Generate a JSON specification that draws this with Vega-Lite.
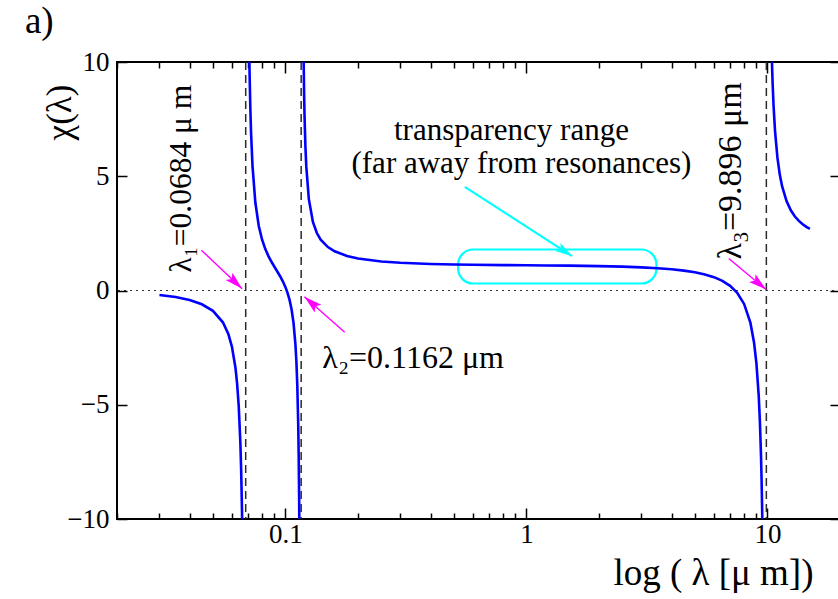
{
  "$schema": "https://vega.github.io/schema/vega-lite/v6.json",
  "width": 723,
  "height": 457,
  "autosize": {"type": "none"},
  "padding": {"left": 117, "top": 62, "right": 0, "bottom": 80},
  "background": "white",
  "config": {
    "view": {"stroke": "black", "strokeWidth": 2},
    "font": "Liberation Serif",
    "axis": {
      "labelFont": "Liberation Serif",
      "titleFont": "Liberation Serif",
      "labelColor": "black",
      "titleColor": "black",
      "tickColor": "black",
      "domain": false,
      "grid": false,
      "labelFontSize": 27,
      "titleFontWeight": "normal",
      "tickWidth": 1.5
    }
  },
  "datasets": {
    "curve": [
      {"lam": 0.03, "chi": -0.195, "branch": 1},
      {"lam": 0.035, "chi": -0.288, "branch": 1},
      {"lam": 0.04, "chi": -0.417, "branch": 1},
      {"lam": 0.045, "chi": -0.603, "branch": 1},
      {"lam": 0.05, "chi": -0.891, "branch": 1},
      {"lam": 0.055, "chi": -1.391, "branch": 1},
      {"lam": 0.058, "chi": -1.916, "branch": 1},
      {"lam": 0.06, "chi": -2.471, "branch": 1},
      {"lam": 0.062, "chi": -3.367, "branch": 1},
      {"lam": 0.063, "chi": -4.061, "branch": 1},
      {"lam": 0.064, "chi": -5.067, "branch": 1},
      {"lam": 0.065, "chi": -6.662, "branch": 1},
      {"lam": 0.0655, "chi": -7.87, "branch": 1},
      {"lam": 0.066, "chi": -9.578, "branch": 1},
      {"lam": 0.0662, "chi": -10.478, "branch": 1},
      {"lam": 0.0708, "chi": 10.22, "branch": 2},
      {"lam": 0.071, "chi": 9.455, "branch": 2},
      {"lam": 0.0715, "chi": 7.969, "branch": 2},
      {"lam": 0.072, "chi": 6.895, "branch": 2},
      {"lam": 0.073, "chi": 5.443, "branch": 2},
      {"lam": 0.075, "chi": 3.849, "branch": 2},
      {"lam": 0.0775, "chi": 2.824, "branch": 2},
      {"lam": 0.08, "chi": 2.222, "branch": 2},
      {"lam": 0.0825, "chi": 1.814, "branch": 2},
      {"lam": 0.085, "chi": 1.507, "branch": 2},
      {"lam": 0.0875, "chi": 1.257, "branch": 2},
      {"lam": 0.09, "chi": 1.038, "branch": 2},
      {"lam": 0.0925, "chi": 0.832, "branch": 2},
      {"lam": 0.095, "chi": 0.625, "branch": 2},
      {"lam": 0.0975, "chi": 0.403, "branch": 2},
      {"lam": 0.1, "chi": 0.147, "branch": 2},
      {"lam": 0.102, "chi": -0.1, "branch": 2},
      {"lam": 0.104, "chi": -0.41, "branch": 2},
      {"lam": 0.106, "chi": -0.821, "branch": 2},
      {"lam": 0.108, "chi": -1.412, "branch": 2},
      {"lam": 0.11, "chi": -2.361, "branch": 2},
      {"lam": 0.111, "chi": -3.098, "branch": 2},
      {"lam": 0.112, "chi": -4.176, "branch": 2},
      {"lam": 0.113, "chi": -5.912, "branch": 2},
      {"lam": 0.1135, "chi": -7.251, "branch": 2},
      {"lam": 0.114, "chi": -9.185, "branch": 2},
      {"lam": 0.1142, "chi": -10.22, "branch": 2},
      {"lam": 0.1189, "chi": 10.266, "branch": 3},
      {"lam": 0.1195, "chi": 8.619, "branch": 3},
      {"lam": 0.12, "chi": 7.647, "branch": 3},
      {"lam": 0.121, "chi": 6.314, "branch": 3},
      {"lam": 0.122, "chi": 5.441, "branch": 3},
      {"lam": 0.125, "chi": 4.01, "branch": 3},
      {"lam": 0.13, "chi": 2.998, "branch": 3},
      {"lam": 0.135, "chi": 2.514, "branch": 3},
      {"lam": 0.14, "chi": 2.228, "branch": 3},
      {"lam": 0.15, "chi": 1.9, "branch": 3},
      {"lam": 0.16, "chi": 1.716, "branch": 3},
      {"lam": 0.18, "chi": 1.513, "branch": 3},
      {"lam": 0.2, "chi": 1.404, "branch": 3},
      {"lam": 0.25, "chi": 1.272, "branch": 3},
      {"lam": 0.3, "chi": 1.214, "branch": 3},
      {"lam": 0.4, "chi": 1.161, "branch": 3},
      {"lam": 0.5, "chi": 1.138, "branch": 3},
      {"lam": 0.6, "chi": 1.126, "branch": 3},
      {"lam": 0.8, "chi": 1.112, "branch": 3},
      {"lam": 1, "chi": 1.104, "branch": 3},
      {"lam": 1.2, "chi": 1.097, "branch": 3},
      {"lam": 1.5, "chi": 1.087, "branch": 3},
      {"lam": 2, "chi": 1.068, "branch": 3},
      {"lam": 2.5, "chi": 1.044, "branch": 3},
      {"lam": 3, "chi": 1.014, "branch": 3},
      {"lam": 3.5, "chi": 0.977, "branch": 3},
      {"lam": 4, "chi": 0.929, "branch": 3},
      {"lam": 4.5, "chi": 0.871, "branch": 3},
      {"lam": 5, "chi": 0.797, "branch": 3},
      {"lam": 5.5, "chi": 0.703, "branch": 3},
      {"lam": 6, "chi": 0.583, "branch": 3},
      {"lam": 6.5, "chi": 0.423, "branch": 3},
      {"lam": 7, "chi": 0.206, "branch": 3},
      {"lam": 7.5, "chi": -0.107, "branch": 3},
      {"lam": 8, "chi": -0.588, "branch": 3},
      {"lam": 8.5, "chi": -1.42, "branch": 3},
      {"lam": 8.8, "chi": -2.287, "branch": 3},
      {"lam": 9, "chi": -3.189, "branch": 3},
      {"lam": 9.2, "chi": -4.61, "branch": 3},
      {"lam": 9.3, "chi": -5.679, "branch": 3},
      {"lam": 9.4, "chi": -7.179, "branch": 3},
      {"lam": 9.45, "chi": -8.181, "branch": 3},
      {"lam": 9.5, "chi": -9.437, "branch": 3},
      {"lam": 9.52, "chi": -10.033, "branch": 3},
      {"lam": 9.55, "chi": -11.055, "branch": 3},
      {"lam": 10.42, "chi": 10.261, "branch": 4},
      {"lam": 10.5, "chi": 9.138, "branch": 4},
      {"lam": 10.6, "chi": 8.094, "branch": 4},
      {"lam": 10.75, "chi": 6.988, "branch": 4},
      {"lam": 11, "chi": 5.812, "branch": 4},
      {"lam": 11.25, "chi": 5.072, "branch": 4},
      {"lam": 11.5, "chi": 4.563, "branch": 4},
      {"lam": 12, "chi": 3.91, "branch": 4},
      {"lam": 12.5, "chi": 3.509, "branch": 4},
      {"lam": 13, "chi": 3.239, "branch": 4},
      {"lam": 13.5, "chi": 3.044, "branch": 4},
      {"lam": 14, "chi": 2.898, "branch": 4},
      {"lam": 14.5, "chi": 2.784, "branch": 4},
      {"lam": 15, "chi": 2.694, "branch": 4}
    ],
    "resonances": [
      {"lam": 0.0684},
      {"lam": 0.1162},
      {"lam": 9.896}
    ],
    "magentaArrows": [
      {"lam": 0.04481, "chi": 1.764, "lam2": 0.0661, "chi2": 0.074},
      {"lam": 0.1762, "chi": -1.825, "lam2": 0.1199, "chi2": -0.276},
      {"lam": 6.91, "chi": 1.4, "lam2": 9.877, "chi2": 0.04}
    ],
    "cyanArrow": [
      {"lam": 0.5546, "chi": 4.538, "lam2": 1.547, "chi2": 1.501}
    ],
    "centerLabels": [
      {"lam": 0.8666, "chi": 6.565, "label": "transparency range"},
      {"lam": 0.9534, "chi": 5.164, "label": "(far away from resonances)"}
    ]
  },
  "layer": [
    {
      "data": {"values": [{"chi": 0}]},
      "mark": {"type": "rule", "color": "#333333", "strokeWidth": 1.2, "strokeDash": [2, 4]},
      "encoding": {
        "y": {
          "field": "chi",
          "type": "quantitative",
          "scale": {"domain": [-10, 10], "nice": false, "zero": false},
          "axis": {
            "orient": "left",
            "values": [-10, -5, 0, 5, 10],
            "format": "d",
            "tickSize": -10,
            "labelPadding": 18,
            "title": "χ(λ)",
            "titleFontSize": 35,
            "titleAngle": -90,
            "titleAlign": "center",
            "titleBaseline": "middle",
            "titleX": -58,
            "titleY": 50
          }
        }
      }
    },
    {
      "data": {"name": "resonances"},
      "mark": {"type": "rule", "color": "#2a2a2a", "strokeWidth": 1.5, "strokeDash": [8, 5]},
      "encoding": {
        "x": {
          "field": "lam",
          "type": "quantitative",
          "scale": {"type": "log", "domain": [0.02, 20], "nice": false},
          "axis": {"orient": "top", "values": [0.1, 1, 10], "tickSize": -11, "labels": false, "title": null}
        }
      }
    },
    {
      "data": {"values": [{"lam": 0.5206, "lam2": 3.462, "chi": 0.306, "chi2": 1.794}]},
      "mark": {"type": "rect", "fill": null, "fillOpacity": 0, "stroke": "#00ffff", "strokeWidth": 2.2, "cornerRadius": 15},
      "encoding": {
        "x": {
          "field": "lam",
          "type": "quantitative",
          "axis": {"orient": "bottom", "values": [0.02, 0.03, 0.04, 0.05, 0.06, 0.07, 0.08, 0.09, 0.2, 0.3, 0.4, 0.5, 0.6, 0.7, 0.8, 0.9, 2, 3, 4, 5, 6, 7, 8, 9, 20], "tickSize": -6, "labels": false, "title": null}
        },
        "x2": {"field": "lam2"},
        "y": {"field": "chi", "type": "quantitative", "axis": null},
        "y2": {"field": "chi2"}
      }
    },
    {
      "data": {"name": "curve"},
      "mark": {"type": "line", "color": "#0000ff", "strokeWidth": 2.6, "clip": true},
      "encoding": {
        "x": {
          "field": "lam",
          "type": "quantitative",
          "axis": {
            "orient": "bottom",
            "values": [0.1, 1, 10],
            "format": "~g",
            "tickSize": -11,
            "labelPadding": 13,
            "title": "log ( λ [μ m])",
            "titleFontSize": 37,
            "titleAlign": "right",
            "titleBaseline": "alphabetic",
            "titleX": 696,
            "titleY": 65
          }
        },
        "y": {
          "field": "chi",
          "type": "quantitative",
          "axis": {"orient": "right", "values": [-10, -5, 0, 5, 10], "tickSize": -10, "labels": false, "title": null}
        },
        "detail": {"field": "branch", "type": "nominal"}
      }
    },
    {
      "data": {"name": "magentaArrows"},
      "mark": {"type": "rule", "color": "#ff00ff", "strokeWidth": 1.4},
      "encoding": {
        "x": {
          "field": "lam",
          "type": "quantitative",
          "axis": {"orient": "top", "values": [0.02, 0.03, 0.04, 0.05, 0.06, 0.07, 0.08, 0.09, 0.2, 0.3, 0.4, 0.5, 0.6, 0.7, 0.8, 0.9, 2, 3, 4, 5, 6, 7, 8, 9, 20], "tickSize": -6, "labels": false, "title": null}
        },
        "x2": {"field": "lam2"},
        "y": {"field": "chi", "type": "quantitative", "axis": null},
        "y2": {"field": "chi2"}
      }
    },
    {
      "data": {"name": "cyanArrow"},
      "mark": {"type": "rule", "color": "#00ffff", "strokeWidth": 2},
      "encoding": {
        "x": {"field": "lam", "type": "quantitative", "axis": null},
        "x2": {"field": "lam2"},
        "y": {"field": "chi", "type": "quantitative", "axis": null},
        "y2": {"field": "chi2"}
      }
    },
    {
      "data": {"values": [{"lam": 0.0661, "chi": 0.074}]},
      "mark": {"type": "point", "shape": "M0,0L-0.28,1L0,0.8L0.28,1Z", "filled": true, "color": "#ff00ff", "opacity": 1, "size": 1296, "angle": 133.5},
      "encoding": {
        "x": {"field": "lam", "type": "quantitative", "axis": null},
        "y": {"field": "chi", "type": "quantitative", "axis": null}
      }
    },
    {
      "data": {"values": [{"lam": 0.1199, "chi": -0.276}]},
      "mark": {"type": "point", "shape": "M0,0L-0.28,1L0,0.8L0.28,1Z", "filled": true, "color": "#ff00ff", "opacity": 1, "size": 1296, "angle": 311.2},
      "encoding": {
        "x": {"field": "lam", "type": "quantitative", "axis": null},
        "y": {"field": "chi", "type": "quantitative", "axis": null}
      }
    },
    {
      "data": {"values": [{"lam": 9.877, "chi": 0.04}]},
      "mark": {"type": "point", "shape": "M0,0L-0.28,1L0,0.8L0.28,1Z", "filled": true, "color": "#ff00ff", "opacity": 1, "size": 1296, "angle": 129.7},
      "encoding": {
        "x": {"field": "lam", "type": "quantitative", "axis": null},
        "y": {"field": "chi", "type": "quantitative", "axis": null}
      }
    },
    {
      "data": {"values": [{"lam": 1.547, "chi": 1.501}]},
      "mark": {"type": "point", "shape": "M0,0L-0.28,1L0,0.8L0.28,1Z", "filled": true, "color": "#00ffff", "opacity": 1, "size": 1156, "angle": 122.9},
      "encoding": {
        "x": {"field": "lam", "type": "quantitative", "axis": null},
        "y": {"field": "chi", "type": "quantitative", "axis": null}
      }
    },
    {
      "data": {"values": [{"lam": 0.0404, "chi": 0.79, "label": "λ₁=0.0684 μ m"}]},
      "mark": {"type": "text", "angle": 270, "align": "left", "baseline": "alphabetic", "font": "Liberation Serif", "fontSize": 31.5, "color": "black"},
      "encoding": {
        "x": {"field": "lam", "type": "quantitative", "axis": null},
        "y": {"field": "chi", "type": "quantitative", "axis": null},
        "text": {"field": "label"}
      }
    },
    {
      "data": {"values": [{"lam": 7.73, "chi": 1.36, "label": "λ₃=9.896 μm"}]},
      "mark": {"type": "text", "angle": 270, "align": "left", "baseline": "alphabetic", "font": "Liberation Serif", "fontSize": 34, "color": "black"},
      "encoding": {
        "x": {"field": "lam", "type": "quantitative", "axis": null},
        "y": {"field": "chi", "type": "quantitative", "axis": null},
        "text": {"field": "label"}
      }
    },
    {
      "data": {"values": [{"lam": 0.1423, "chi": -3.37, "label": "λ₂=0.1162 μm"}]},
      "mark": {"type": "text", "align": "left", "baseline": "alphabetic", "font": "Liberation Serif", "fontSize": 32, "color": "black"},
      "encoding": {
        "x": {"field": "lam", "type": "quantitative", "axis": null},
        "y": {"field": "chi", "type": "quantitative", "axis": null},
        "text": {"field": "label"}
      }
    },
    {
      "data": {"name": "centerLabels"},
      "mark": {"type": "text", "align": "center", "baseline": "alphabetic", "font": "Liberation Serif", "fontSize": 31, "color": "black"},
      "encoding": {
        "x": {"field": "lam", "type": "quantitative", "axis": null},
        "y": {"field": "chi", "type": "quantitative", "axis": null},
        "text": {"field": "label"}
      }
    },
    {
      "data": {"values": [{"lam": 0.0083, "chi": 11.25, "label": "a)"}]},
      "mark": {"type": "text", "align": "left", "baseline": "alphabetic", "font": "Liberation Serif", "fontSize": 37, "color": "black"},
      "encoding": {
        "x": {"field": "lam", "type": "quantitative", "axis": null},
        "y": {"field": "chi", "type": "quantitative", "axis": null},
        "text": {"field": "label"}
      }
    }
  ],
  "resolve": {
    "scale": {"x": "shared", "y": "shared"},
    "axis": {"x": "independent", "y": "independent"}
  }
}
